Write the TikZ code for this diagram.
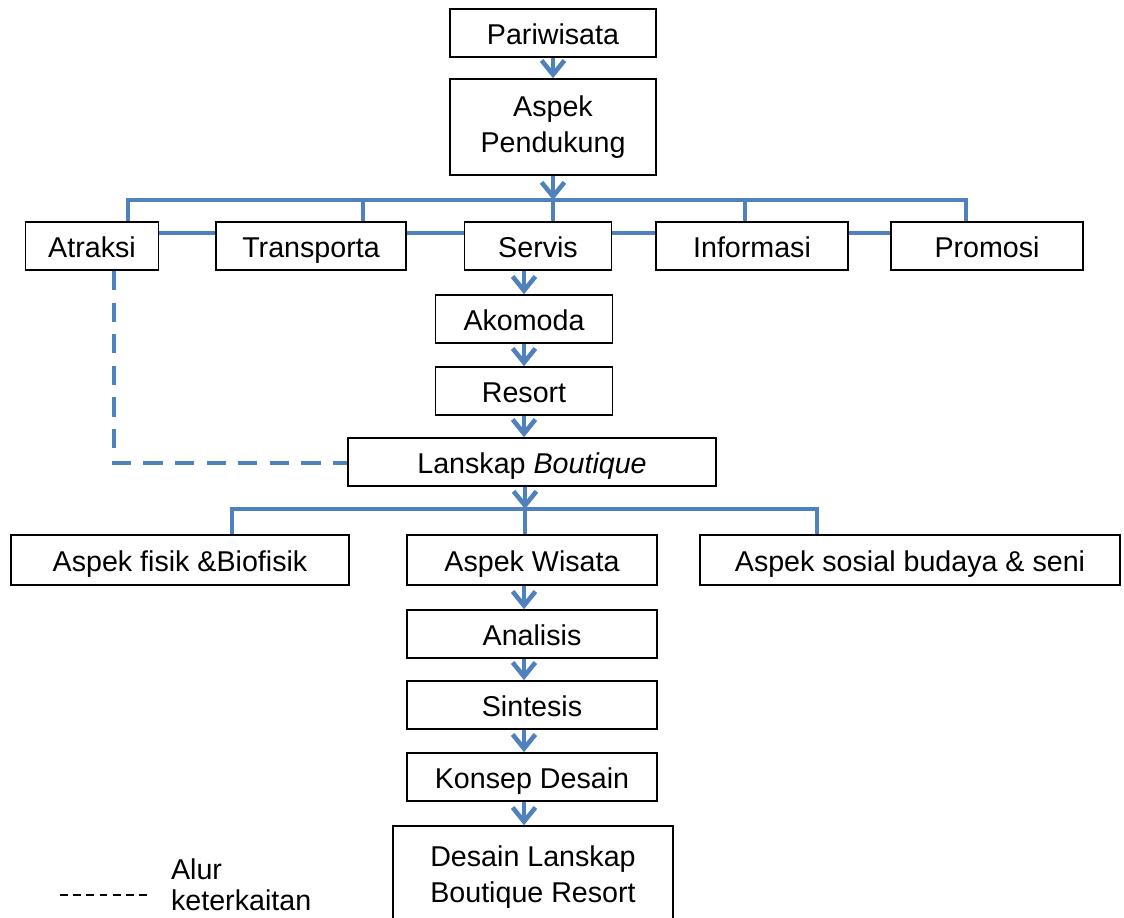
\documentclass[tikz,border=0pt]{standalone}
\usepackage{fontspec}
\setmainfont{Liberation Sans}
\usetikzlibrary{arrows.meta}
\definecolor{biru}{RGB}{79,129,189}
\tikzset{
  boks/.style={draw, line width=1pt, minimum height=0.96cm, inner sep=2pt,
    font=\fontsize{16.3}{20.4}\selectfont, align=center},
  satu/.style={boks, text height=15pt, text depth=1.4pt},
  link/.style={biru, line width=2.6pt},
  flow/.style={link, -{Straight Barb[length=8pt,width=13pt]}},
  relasi/.style={link, dash pattern=on 11pt off 7pt}
}
\begin{document}
\begin{tikzpicture}[x=0.02cm, y=-0.02cm]
\useasboundingbox (0,0) rectangle (1124,917);
\clip (0,0) rectangle (1124,917);
% puncak
\node[satu, minimum width=4.12cm] (Pariwisata) at (553,33) {Pariwisata};
\node[boks, minimum width=4.12cm, minimum height=1.92cm] (Pendukung) at (553,127) {Aspek\\Pendukung};
% aspek pendukung
\foreach \n/\x/\w in {Atraksi/92/2.66, Transporta/311/3.8, Servis/538/2.94, Informasi/752/3.84, Promosi/987/3.84}
  {\node[satu, minimum width=\w cm] (\n) at (\x,246) {\n};}
\node[satu, minimum width=3.54cm] (Akomoda) at (524,319) {Akomoda};
\node[satu, minimum width=3.54cm] (Resort) at (524,391) {Resort};
\node[satu, minimum width=7.36cm] (Lanskap) at (532,462) {Lanskap \textit{Boutique}};
% aspek lanskap
\node[satu, minimum width=6.76cm, minimum height=1cm] (Fisik) at (180,560) {Aspek fisik \&Biofisik};
\node[satu, minimum width=5cm, minimum height=1cm] (Wisata) at (532,560) {Aspek Wisata};
\node[satu, minimum width=8.4cm, minimum height=1cm] (Sosial) at (910,560) {Aspek sosial budaya \& seni};
\node[satu, minimum width=5cm] (Analisis) at (532,634) {Analisis};
\node[satu, minimum width=5cm] (Sintesis) at (532,705) {Sintesis};
\node[satu, minimum width=5cm] (Konsep) at (532,777) {Konsep Desain};
\node[boks, minimum width=5.6cm, minimum height=2.04cm] (Desain) at (533,877) {Desain Lanskap\\Boutique Resort};
% cabang atas
\coordinate (atas) at (553,200);
\coordinate (t1) at (128,200);
\coordinate (t2) at (363,200);
\coordinate (t4) at (745,200);
\coordinate (t5) at (966,200);
\draw[flow] (Pariwisata) -- (Pendukung);
\draw[flow] (Pendukung) -- (atas);
\draw[link] (t1 |- Atraksi.north) -- (t1) -- (t5) -- (t5 |- Promosi.north);
\foreach \t/\n in {t2/Transporta, atas/Servis, t4/Informasi}
  {\draw[link] (\t) -- (\t |- \n.north);}
\foreach \a/\b in {Atraksi/Transporta, Transporta/Servis, Servis/Informasi, Informasi/Promosi}
  {\draw[link] ([yshift=0.26cm]\a.east) -- ([yshift=0.26cm]\b.west);}
% alur tengah
\coordinate (poros) at (524,0);
\foreach \a/\b in {Servis/Akomoda, Akomoda/Resort, Resort/Lanskap, Wisata/Analisis, Analisis/Sintesis, Sintesis/Konsep, Konsep/Desain}
  {\draw[flow] (\a.south -| poros) -- (\b.north -| poros);}
% cabang bawah
\coordinate (bawah) at (525,509);
\coordinate (k1) at (232,509);
\coordinate (k3) at (817,509);
\draw[flow] (Lanskap.south -| bawah) -- (bawah);
\draw[link] (k1 |- Fisik.north) -- (k1) -- (k3) -- (k3 |- Sosial.north);
\draw[link] (bawah) -- (bawah |- Wisata.north);
% keterkaitan
\coordinate (sudut) at (114,463);
\draw[relasi] (Atraksi.south -| sudut) -- (sudut) -- (sudut -| Lanskap.west);
% keterangan
\node[anchor=west, align=left, inner sep=1pt, font=\fontsize{16.3}{17.6}\selectfont] (ket) at (169,885) {Alur\\keterkaitan};
\coordinate (contoh) at (60,895);
\draw[line width=0.8pt, dash pattern=on 4.5pt off 3pt] (contoh) -- ++(90,0);
\end{tikzpicture}
\end{document}
